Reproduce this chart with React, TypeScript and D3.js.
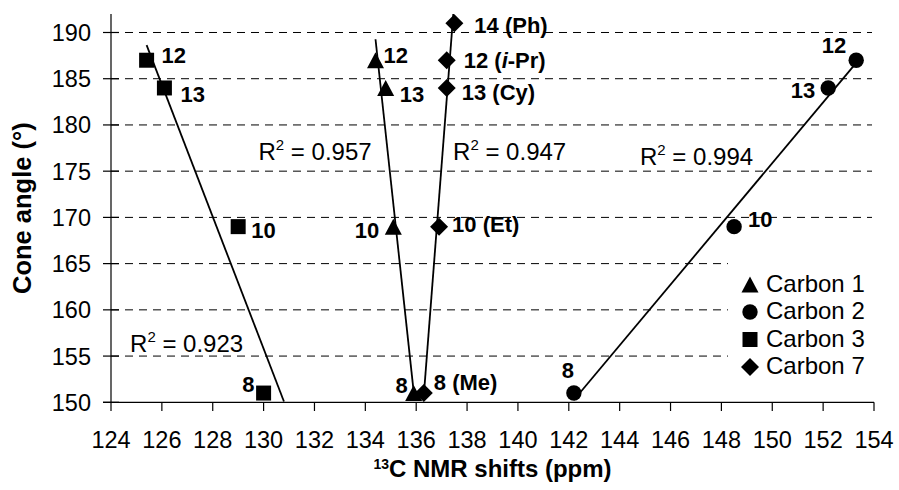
import { useEffect, useRef } from "react";
import * as d3 from "d3";

const width = 899;
const height = 490;

// 13C shifts (ppm) vs cone angle, per carbon position
const carbon1Shift = [134.4, 134.8, 135.1, 135.9];
const carbon1Angle = [187, 184, 169, 151];
const carbon1Labels = ["12", "13", "10", "8"];

const carbon2Shift = [153.3, 152.2, 148.5, 142.2];
const carbon2Angle = [187, 184, 169, 151];
const carbon2Labels = ["12", "13", "10", "8"];

const carbon3Shift = [125.4, 126.1, 129.0, 130.0];
const carbon3Angle = [187, 184, 169, 151];
const carbon3Labels = ["12", "13", "10", "8"];

const carbon7Shift = [137.5, 137.2, 137.2, 136.9, 136.3];
const carbon7Angle = [191, 187, 184, 169, 151];
const carbon7Labels = ["14 (Ph)", "12 (i-Pr)", "13 (Cy)", "10 (Et)", "8 (Me)"];

const seriesNames = ["Carbon 1", "Carbon 2", "Carbon 3", "Carbon 7"];
const r2Text = ["0.957", "0.994", "0.923", "0.947"];
// where each R² note sits, in data units (shift, angle)
const r2AnchorShift = [129.8, 144.8, 124.75, 137.45];
const r2AnchorAngle = [176.2, 175.65, 155.45, 176.2];
// Carbon 3 trendline is forecast forward to the axis
const forecastForward = [0, 0, 0.8, 0];

const xTicks = d3.range(124, 155, 2);
const yTicks = d3.range(150, 191, 5);

// label offsets in px from the marker: [dx, dy, anchor]
const labelOffsets: [number, number, string][][] = [
  [[8, 3, "start"], [14, 14, "start"], [-14, 11, "end"], [-6, 0, "end"]],
  [[-10, -7, "end"], [-13, 10, "end"], [14, 0, "start"], [-6, -15, "middle"]],
  [[15, 3, "start"], [16, 14, "start"], [13, 11, "start"], [-9, -1, "end"]],
  [[20, 10, "start"], [17, 8, "start"], [15, 12, "start"], [13, 5, "start"], [10, -3, "start"]],
];

const font = "'Liberation Sans', Arial, sans-serif";

function markerPath(kind: string) {
  if (kind === "triangle") return "M0,-8L8.5,8L-8.5,8Z";
  if (kind === "square") return "M-7.5,-7.5H7.5V7.5H-7.5Z";
  if (kind === "diamond") return "M0,-9L9,0L0,9L-9,0Z";
  return d3.symbol(d3.symbolCircle, Math.PI * 7.7 * 7.7)() as string;
}

function fit(xs: number[], ys: number[]) {
  const mx = d3.mean(xs) as number;
  const my = d3.mean(ys) as number;
  let sxy = 0;
  let sxx = 0;
  xs.forEach((x, i) => {
    sxy += (x - mx) * (ys[i] - my);
    sxx += (x - mx) * (x - mx);
  });
  const b = sxy / sxx;
  return (x: number) => my + b * (x - mx);
}

export default function App() {
  const svgRef = useRef<SVGSVGElement>(null);

  useEffect(() => {
    const svg = d3.select(svgRef.current);
    svg.selectAll("*").remove();

    const x = d3.scaleLinear().domain([124, 154]).range([111, 874]);
    const y = d3.scaleLinear().domain([150, 192]).range([402.3, 14]);

    const series = [
      { shift: carbon1Shift, angle: carbon1Angle, labels: carbon1Labels, kind: "triangle" },
      { shift: carbon2Shift, angle: carbon2Angle, labels: carbon2Labels, kind: "circle" },
      { shift: carbon3Shift, angle: carbon3Angle, labels: carbon3Labels, kind: "square" },
      { shift: carbon7Shift, angle: carbon7Angle, labels: carbon7Labels, kind: "diamond" },
    ];

    svg.append("defs").append("clipPath").attr("id", "plot")
      .append("rect").attr("x", 111).attr("y", 14).attr("width", 763).attr("height", 388.3);

    // gridlines
    svg.append("g").selectAll("line")
      .data(yTicks.filter((t) => t > 150))
      .join("line")
      .attr("x1", 111).attr("x2", 872)
      .attr("y1", (d) => y(d)).attr("y2", (d) => y(d))
      .attr("stroke", "#000").attr("stroke-width", 1)
      .attr("stroke-dasharray", "8,6");

    // axes
    const ax = svg.append("g").attr("stroke", "#000").attr("stroke-width", 1.2);
    ax.append("line").attr("x1", 111).attr("x2", 111).attr("y1", 14).attr("y2", 402.3);
    ax.append("line").attr("x1", 103).attr("x2", 874).attr("y1", 402.3).attr("y2", 402.3);
    ax.selectAll(".yt").data(yTicks).join("line").attr("class", "yt")
      .attr("x1", 103).attr("x2", 119)
      .attr("y1", (d) => y(d)).attr("y2", (d) => y(d));
    ax.selectAll(".xt").data(xTicks).join("line").attr("class", "xt")
      .attr("x1", (d) => x(d)).attr("x2", (d) => x(d))
      .attr("y1", 402.3).attr("y2", 411);

    svg.append("g").selectAll("text").data(yTicks).join("text")
      .attr("x", 91).attr("y", (d) => y(d)).attr("dy", "0.36em")
      .attr("text-anchor", "end")
      .style("font", `23.5px ${font}`)
      .text((d) => d);

    svg.append("g").selectAll("text").data(xTicks).join("text")
      .attr("x", (d) => x(d)).attr("y", 448)
      .attr("text-anchor", "middle")
      .style("font", `23.5px ${font}`)
      .text((d) => d);

    // axis titles
    svg.append("text")
      .attr("transform", `translate(31,${(14 + 402.3) / 2}) rotate(-90)`)
      .attr("text-anchor", "middle")
      .style("font", `bold 25.5px ${font}`)
      .text("Cone angle (°)");

    const xt = svg.append("text")
      .attr("x", 492.5).attr("y", 477)
      .attr("text-anchor", "middle")
      .style("font", `bold 24px ${font}`);
    xt.append("tspan").attr("font-size", 14).attr("dy", -8).text("13");
    xt.append("tspan").attr("dy", 8).text("C NMR shifts (ppm)");

    // trendlines
    const trend = svg.append("g").attr("clip-path", "url(#plot)");
    series.forEach((s, i) => {
      const f = fit(s.shift, s.angle);
      const [x0, x1] = d3.extent(s.shift) as [number, number];
      const xe = x1 + forecastForward[i];
      trend.append("line")
        .attr("x1", x(x0)).attr("y1", y(f(x0)))
        .attr("x2", x(xe)).attr("y2", y(f(xe)))
        .attr("stroke", "#000").attr("stroke-width", 1.8);
    });

    // markers and labels
    series.forEach((s, i) => {
      const g = svg.append("g");
      g.selectAll("path").data(s.shift).join("path")
        .attr("d", markerPath(s.kind))
        .attr("transform", (d, j) => `translate(${x(d)},${y(s.angle[j])})`)
        .attr("fill", "#000");
      s.labels.forEach((lab, j) => {
        const [dx, dy, anchor] = labelOffsets[i][j];
        const t = g.append("text")
          .attr("x", x(s.shift[j]) + dx)
          .attr("y", y(s.angle[j]) + dy)
          .attr("text-anchor", anchor)
          .style("font", `bold 22px ${font}`);
        const m = lab.match(/^(.*\()i(-.*)$/);
        if (m) {
          t.append("tspan").text(m[1]);
          t.append("tspan").attr("font-style", "italic").text("i");
          t.append("tspan").text(m[2]);
        } else {
          t.text(lab);
        }
      });
    });

    // R² notes
    r2Text.forEach((v, i) => {
      const t = svg.append("text")
        .attr("x", x(r2AnchorShift[i])).attr("y", y(r2AnchorAngle[i]))
        .style("font", `24px ${font}`);
      t.append("tspan").text("R");
      t.append("tspan").attr("font-size", 15).attr("dy", -10).text("2");
      t.append("tspan").attr("dy", 10).text(` = ${v}`);
    });

    // legend
    const lg = svg.append("g");
    lg.append("rect").attr("x", 728).attr("y", 248).attr("width", 146).attr("height", 148).attr("fill", "#fff");
    series.forEach((s, i) => {
      const by = 291.5 + i * 27.5;
      lg.append("path").attr("d", markerPath(s.kind))
        .attr("transform", `translate(750,${by - 7})`).attr("fill", "#000");
      lg.append("text").attr("x", 766).attr("y", by)
        .style("font", `24px ${font}`).text(seriesNames[i]);
    });
  }, []);

  return (
    <svg
      ref={svgRef}
      width={width}
      height={height}
      style={{ position: "absolute", left: 0, top: 0, background: "#fff" }}
    />
  );
}
